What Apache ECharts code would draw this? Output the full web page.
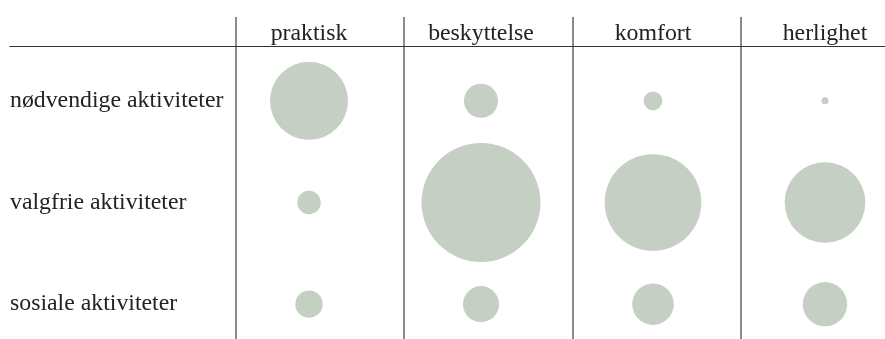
<!DOCTYPE html>
<html>
<head>
<meta charset="utf-8">
<script src="https://cdn.jsdelivr.net/npm/echarts@6.0.0/dist/echarts.min.js"></script>
<style>
html, body { margin: 0; padding: 0; background: #fff; }
#mychart { width: 885px; height: 339px; }
</style>
</head>
<body>
<div id="mychart"></div>
<script>
const columns = ['praktisk', 'beskyttelse', 'komfort', 'herlighet']
const rows = ['nødvendige aktiviteter', 'valgfrie aktiviteter', 'sosiale aktiviteter']
// relative weight per cell (bubble area follows the value)
const nodvendige = [43, 8.2, 2.5, 0.35]
const valgfrie = [3.9, 100, 66, 46]
const sosiale = [5.3, 9.2, 12.2, 13.9]

let values = [nodvendige, valgfrie, sosiale]
let data = []
for (let r = 0; r < rows.length; r++) {
    for (let c = 0; c < columns.length; c++) {
        data.push([c, r, values[r][c]])
    }
}

const font = 'Liberation Serif'
let myChart = echarts.init(document.getElementById('mychart'))

let option = {
    animation: false,
    grid: [
        // bubbles
        { left: 223, width: 688, top: 50, height: 305, outerBoundsMode: 'none' },
        // header rule
        { left: 10, right: 0, top: 46, height: 10, outerBoundsMode: 'none' },
        // column rules
        { left: 235.7, width: 673.3, top: 17, bottom: 0, outerBoundsMode: 'none' }
    ],
    xAxis: [
        {
            gridIndex: 0,
            type: 'category',
            data: columns,
            position: 'top',
            axisLine: { show: false },
            axisTick: { show: false },
            splitLine: { show: false },
            axisLabel: { fontFamily: font, fontSize: 23.8, color: '#222', margin: 4 }
        },
        {
            gridIndex: 1,
            type: 'value',
            position: 'top',
            min: 0,
            max: 1,
            axisLine: { show: true, onZero: false, lineStyle: { color: '#333', width: 1.2 } },
            axisTick: { show: false },
            axisLabel: { show: false },
            splitLine: { show: false }
        },
        {
            gridIndex: 2,
            type: 'value',
            min: 0,
            max: 4,
            interval: 1,
            axisLine: { show: false },
            axisTick: { show: false },
            axisLabel: { show: false },
            splitLine: { show: true, lineStyle: { color: '#666', width: 1.5 } }
        }
    ],
    yAxis: [
        {
            gridIndex: 0,
            type: 'category',
            data: rows,
            inverse: true,
            axisLine: { show: false },
            axisTick: { show: false },
            axisLabel: { fontFamily: font, fontSize: 23.8, color: '#222', align: 'left', margin: 213, padding: [0, 0, 4, 0] }
        },
        { gridIndex: 1, type: 'value', show: false },
        { gridIndex: 2, type: 'value', show: false }
    ],
    series: [
        {
            type: 'scatter',
            xAxisIndex: 0,
            yAxisIndex: 0,
            data: data,
            symbolSize: d => 11.9 * Math.sqrt(d[2]),
            itemStyle: { color: '#c6cfc3', opacity: 1 },
            emphasis: { disabled: true }
        }
    ]
}
myChart.setOption(option)
</script>
</body>
</html>
